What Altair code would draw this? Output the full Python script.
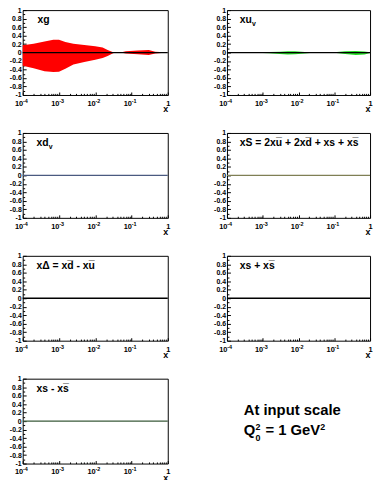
import altair as alt
import pandas as pd

FONT = "Liberation Sans"

# ---------------- data ----------------
g_x = [1e-4, 2e-4, 4e-4, 7e-4, 1e-3, 1.5e-3, 2.5e-3, 5e-3, 1e-2, 1.6e-2, 2.2e-2,
       3e-2, 3.5e-2, 5e-2, 7e-2, 0.15, 0.3, 0.45, 0.8, 1.0]
g_up = [0.17, 0.21, 0.26, 0.30, 0.30, 0.25, 0.21, 0.18, 0.15, 0.12, 0.06,
        0.01, 0.0, 0.0, 0.03, 0.05, 0.06, 0.02, 0.005, 0.0]
g_lo = [-0.31, -0.37, -0.44, -0.46, -0.45, -0.38, -0.28, -0.22, -0.17, -0.13, -0.08,
        -0.02, 0.0, 0.0, -0.02, -0.04, -0.06, -0.02, -0.005, 0.0]

uv_x = [1e-4, 1e-3, 1.5e-3, 3e-3, 5e-3, 8e-3, 1.5e-2, 2.5e-2, 0.1, 0.2, 0.4, 0.7, 1.0]
uv_up = [0.005, 0.005, 0.01, 0.02, 0.03, 0.03, 0.015, 0.005, 0.005, 0.03, 0.035, 0.025, 0.005]
uv_lo = [-0.01, -0.01, -0.015, -0.035, -0.045, -0.04, -0.02, -0.005, -0.005, -0.035, -0.055, -0.045, -0.01]

flat_x = [1e-4, 1.0]
flat_y = [0.0, 0.0]

x_major = [1e-4, 1e-3, 1e-2, 1e-1, 1.0]
x_decades = [1e-4, 1e-3, 1e-2, 1e-1]
x_minor = [k * 10.0 ** e for e in range(-4, 0) for k in range(2, 10)]
y_major = [-1.0, -0.8, -0.6, -0.4, -0.2, 0.0, 0.2, 0.4, 0.6, 0.8, 1.0]
y_minor = [-0.9, -0.7, -0.5, -0.3, -0.1, 0.1, 0.3, 0.5, 0.7, 0.9]

OL = "\u0305"
titles = {
    "xg": [("xg", 0, 0, 10.5)],
    "xuv": [("xu", 0, 0, 10.5), ("v", 12.3, 3, 7)],
    "xdv": [("xd", 0, 0, 10.5), ("v", 12.3, 3, 7)],
    "xS": [("xS = 2xu" + OL + " + 2xd" + OL + " + xs + xs" + OL, 0, 0, 10.5)],
    "xD": [("x\u0394 = xd" + OL + " - xu" + OL, 0, 0, 10.5)],
    "xsp": [("xs + xs" + OL, 0, 0, 10.5)],
    "xsm": [("xs - xs" + OL, 0, 0, 10.5)],
}

XLAB = "datum.value >= 1 ? '1' : '10'"
XSUP = ("datum.value > 0.05 ? '-1' : datum.value > 0.005 ? '-2' : "
        "datum.value > 0.0005 ? '-3' : '-4'")
YLAB = "datum.value == 0 ? '0' : (datum.value < 0 ? '-' : '') + format(abs(datum.value), '.1~f')"

xscale = alt.Scale(type="log", domain=[1e-4, 1.0], nice=False)
yscale = alt.Scale(domain=[-1.0, 1.0], nice=False, zero=False)


def panel(key, width, height=86, band=None, band_color="red", line_color="black", tx=14, ty=13.5):
    zero_df = pd.DataFrame({"x": flat_x, "y": flat_y})
    xa_major = alt.Axis(values=x_major, labelExpr=XLAB, orient="bottom", tickSize=3, offset=-3,
                        domain=False, grid=False, labelFlush=False, labelOverlap=False,
                        labelAlign={"condition": {"test": "datum.value >= 1", "value": "center"},
                                    "value": "right"},
                        labelPadding=10.5, labelBaseline="alphabetic", labelFont=FONT,
                        labelFontSize=7.5, labelFontWeight="bold", labelColor="black",
                        tickColor="black", title="x", titleX=width, titleY=20,
                        titleAlign="right", titleBaseline="alphabetic", titleFont=FONT,
                        titleFontSize=9, titleFontWeight="bold", titleColor="black")
    xa_sup = alt.Axis(values=x_decades, labelExpr=XSUP, orient="bottom", ticks=False, tickSize=0,
                      domain=False, grid=False, labelFlush=False, labelOverlap=False,
                      labelAlign="left", labelOffset=-0.3, labelPadding=7.5,
                      labelBaseline="alphabetic", labelFont=FONT, labelFontSize=5.5,
                      labelFontWeight="bold", labelColor="black", title=None)
    ya_major = alt.Axis(values=y_major, labelExpr=YLAB, orient="left", tickSize=3.5, offset=-3.5,
                        domain=False, grid=False, labelFlush=False, labelOverlap=False,
                        labelPadding=1.5, labelFont=FONT, labelFontSize=7, labelFontWeight="bold",
                        labelColor="black", tickColor="black", title=None)
    xa_minor = alt.Axis(values=x_minor, orient="bottom", tickSize=1.6, offset=-1.6, labels=False,
                        domain=False, grid=False, tickColor="black", title=None)
    ya_minor = alt.Axis(values=y_minor, orient="left", tickSize=2, offset=-2, labels=False,
                        domain=False, grid=False, tickColor="black", title=None)

    base = alt.Chart(zero_df)
    axes_major = base.mark_line(opacity=0).encode(
        x=alt.X("x:Q", scale=xscale, axis=xa_major),
        y=alt.Y("y:Q", scale=yscale, axis=ya_major),
    )
    axes_minor = base.mark_line(opacity=0).encode(
        x=alt.X("x:Q", scale=xscale, axis=xa_minor),
        y=alt.Y("y:Q", scale=yscale, axis=ya_minor),
    )
    axes_sup = base.mark_line(opacity=0).encode(
        x=alt.X("x:Q", scale=xscale, axis=xa_sup),
        y=alt.Y("y:Q", scale=yscale, axis=None),
    )
    layers = [axes_major, axes_minor, axes_sup]
    if band is not None:
        bx, bu, bl = band
        bdf = pd.DataFrame({"x": bx, "up": bu, "lo": bl})
        layers.append(alt.Chart(bdf).mark_area(color=band_color, opacity=1).encode(
            x=alt.X("x:Q", scale=xscale, axis=None),
            y=alt.Y("up:Q", scale=yscale, axis=None),
            y2="lo:Q",
        ))
    layers.append(base.mark_line(color=line_color, strokeWidth=1.3).encode(
        x=alt.X("x:Q", scale=xscale, axis=None),
        y=alt.Y("y:Q", scale=yscale, axis=None),
    ))
    for txt, dx, dy, fs in titles[key]:
        layers.append(alt.Chart(pd.DataFrame({"t": [txt]})).mark_text(
            align="left", baseline="alphabetic", font=FONT, fontWeight="bold",
            fontSize=fs, color="black").encode(
            x=alt.value(tx + dx), y=alt.value(ty + dy), text="t:N"))
    return alt.layer(*layers).resolve_axis(x="independent", y="independent").properties(
        width=width, height=height)


W1, W2 = 147, 145

p_g = panel("xg", W1, band=(g_x, g_up, g_lo), band_color="#ff0000", tx=15)
p_uv = panel("xuv", W2, band=(uv_x, uv_up, uv_lo), band_color="#22dd22", tx=13)
p_dv = panel("xdv", W1, line_color="#4a5a80", tx=14)
p_S = panel("xS", W2, line_color="#7f7f55", tx=13)
p_D = panel("xD", W1, line_color="black", tx=14)
p_sp = panel("xsp", W2, line_color="black", tx=13)
p_sm = panel("xsm", W1, line_color="#3a5a3a", tx=14)

info_parts = [
    ("At input scale", 31, 36.5, 15),
    ("Q", 31, 57.5, 15),
    ("2", 43, 51.5, 9),
    ("0", 43, 63.5, 9),
    ("= 1 GeV", 53, 57.5, 15),
    ("2", 108.5, 51.5, 9),
]
info_layers = []
for txt, px, py, fs in info_parts:
    info_layers.append(alt.Chart(pd.DataFrame({"t": [txt]})).mark_text(
        align="left", baseline="alphabetic", font=FONT, fontWeight="bold",
        fontSize=fs, color="black").encode(x=alt.value(px), y=alt.value(py), text="t:N"))
p_info = alt.layer(*info_layers).properties(
    width=W2, height=86, view=alt.ViewBackground(stroke="transparent"))

HS = 41
chart = alt.vconcat(
    alt.hconcat(p_g, p_uv, spacing=HS),
    alt.hconcat(p_dv, p_S, spacing=HS),
    alt.hconcat(p_D, p_sp, spacing=HS),
    alt.hconcat(p_sm, p_info, spacing=HS),
    spacing=13.5,
).properties(
    padding={"left": 8, "top": 2, "right": 0, "bottom": 0},
    background="white",
).configure_view(stroke="black", strokeWidth=1)

chart.save("out.html", embed_options={"renderer": "svg", "actions": False})
